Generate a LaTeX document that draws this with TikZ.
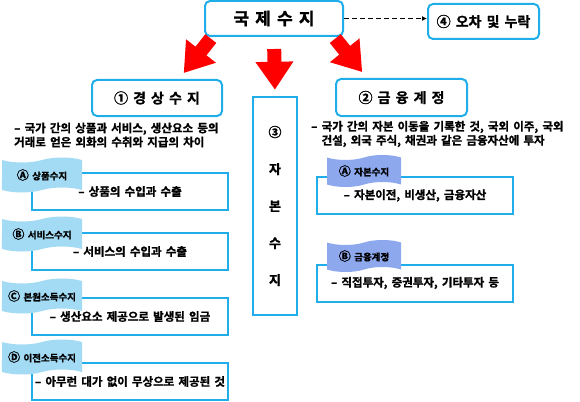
\documentclass[tikz,border=0pt]{standalone}
\usepackage{fontspec}
\setmainfont{Noto Sans CJK KR}[BoldFont={Noto Sans CJK KR Bold}, BoldFeatures={FakeBold=1.2}, WordSpace=1.6]
\usetikzlibrary{arrows.meta,shapes.symbols}
\definecolor{BoxLine}{HTML}{1FAEEA}
\definecolor{FlagSky}{HTML}{A3DBF5}
\definecolor{FlagBlue}{HTML}{8EA8EE}
\definecolor{ArrowRed}{HTML}{FF0000}
\newcommand{\flagmark}[1]{{\fontsize{12}{11}\selectfont #1}}
\tikzset{
  every node/.style={font=\bfseries, text=black},
  headbox/.style={draw=BoxLine, line width=2pt, rounded corners=5pt, fill=white},
  itembox/.style={draw=BoxLine, line width=2pt, minimum width=196pt, minimum height=37pt,
    font=\bfseries\fontsize{11.5}{13}\selectfont},
  flagsky/.style={tape, fill=FlagSky, minimum width=80pt, minimum height=35pt, inner sep=0pt,
    tape bend height=5pt, font=\bfseries\fontsize{9.5}{11}\selectfont},
  flagblue/.style={flagsky, fill=FlagBlue, minimum width=74pt, minimum height=32pt},
  desc/.style={anchor=west, align=left, inner sep=0pt, font=\bfseries\fontsize{11.5}{14}\selectfont},
  bigarrow/.style={draw=ArrowRed, line width=14pt, -{Triangle[length=28pt,width=36pt]}},
  dashlink/.style={dash pattern=on 5pt off 3pt, line width=1.6pt, -{Latex[length=5pt,width=5pt]}},
}

\begin{document}
\begin{tikzpicture}[x=1pt,y=-1pt]
  \useasboundingbox (0,0) rectangle (580,401);
  % top row
  \node[headbox, minimum width=138pt, minimum height=35pt, font=\bfseries\fontsize{17}{20}\selectfont]
    (bop) at (274,18.5) {국 제 수 지};
  \node[headbox, minimum width=111pt, minimum height=35pt, font=\bfseries\fontsize{14}{16}\selectfont]
    (err) at (483.5,21.5) {④ 오차 및 누락};
  \draw[dashlink] (bop.east) -- (bop.east -| err.west);
  % three accounts
  \node[headbox, minimum width=130pt, minimum height=36pt, font=\bfseries\fontsize{14}{16}\selectfont]
    (current) at (157,98) {① 경 상 수 지};
  \node[headbox, minimum width=131pt, minimum height=37pt, font=\bfseries\fontsize{14}{16}\selectfont]
    (finance) at (401.5,97.5) {② 금 융 계 정};
  \node[draw=BoxLine, line width=2.5pt, minimum width=44pt, minimum height=218pt, align=center,
    font=\bfseries\fontsize{13}{37}\selectfont]
    (capital) at (275,206) {③\\자\\본\\수\\지};
  % red arrows
  \draw[bigarrow, shorten <=2pt, shorten >=7.6pt] ([xshift=8pt]bop.south west) -- ([xshift=-44pt]current.north east);
  \draw[bigarrow, shorten <=12pt, shorten >=6pt] (bop.south) -- (capital.north);
  \draw[bigarrow, shorten <=2pt, shorten >=7.6pt] ([xshift=-10pt]bop.south east) -- ([xshift=32pt]finance.north west);
  % descriptions
  \node[desc] (curtext) at (14,135)
    {– 국가 간의 상품과 서비스, 생산요소 등의\\거래로 얻은 외화의 수취와 지급의 차이};
  \node[desc] (fintext) at (311,134)
    {– 국가 간의 자본 이동을 기록한 것, 국외 이주, 국외\\\phantom{– }건설, 외국 주식, 채권과 같은 금융자산에 투자};
  % current account items
  \node[itembox] (goods) at (130,191.5) {– 상품의 수입과 수출};
  \node[itembox] (service) at (130,251.5) {– 서비스의 수입과 수출};
  \node[itembox] (primary) at (130,316.5) {– 생산요소 제공으로 발생된 임금};
  \node[itembox] (transfer) at (130,381.5) {– 아무런 대가 없이 무상으로 제공된 것};
  \node[flagsky] (goodsflag) at (42,175) {\flagmark{Ⓐ} 상품수지};
  \node[flagsky] (serviceflag) at (42,234) {\flagmark{Ⓑ} 서비스수지};
  \node[flagsky] (primaryflag) at (42,296) {\flagmark{Ⓒ} 본원소득수지};
  \node[flagsky] (transferflag) at (42,357) {\flagmark{Ⓓ} 이전소득수지};
  % financial account items
  \node[itembox] (captrans) at (415,195.5) {– 자본이전, 비생산, 금융자산};
  \node[itembox] (invest) at (415,283) {– 직접투자, 증권투자, 기타투자 등};
  \node[flagblue] (captransflag) at (364,171) {\flagmark{Ⓐ} 자본수지};
  \node[flagblue] (investflag) at (364,256) {\flagmark{Ⓑ} 금융계정};
\end{tikzpicture}
\end{document}
